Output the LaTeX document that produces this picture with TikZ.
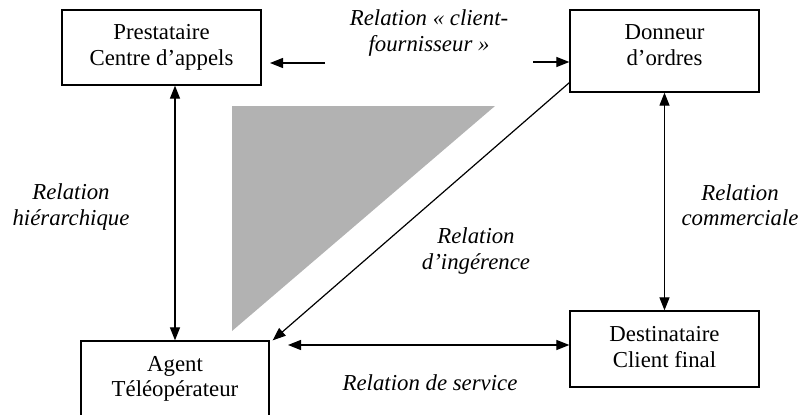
\documentclass[tikz,border=0pt]{standalone}
\usepackage{fontspec}
\setmainfont{Liberation Serif}
\usetikzlibrary{arrows.meta}
\definecolor{wedge}{RGB}{178,178,178}
\begin{document}
\begin{tikzpicture}[x=1pt,y=-1pt,
  every node/.style={font=\fontsize{22.8}{25.5}\selectfont, align=center, inner sep=0pt},
  box/.style={draw, line width=1.3pt},
  rel/.style={font=\fontsize{22.8}{25.5}\selectfont\itshape},
  link/.style={line width=1.2pt, -{Triangle[length=13pt,width=10pt]}},
  blink/.style={line width=1.2pt, {Triangle[length=13pt,width=10pt]}-{Triangle[length=13pt,width=10pt]}}]
  \useasboundingbox (0,0) rectangle (801,415);

  % shaded wedge
  \fill[wedge] (232,106) -- (495,106) -- (232,331) -- cycle;

  % actors
  \node[box, minimum width=199pt, minimum height=75pt] (pres) at (161.5,47.5)
    {Prestataire\\Centre d’appels};
  \node[box, minimum width=189pt, minimum height=82pt] (donneur) at (664.5,51)
    {Donneur\\d’ordres\rule[-12pt]{0pt}{0pt}};
  \node[box, minimum width=189pt, minimum height=76pt] (dest) at (664.5,349)
    {Destinataire\\Client final\rule[-4pt]{0pt}{0pt}};
  \node[box, minimum width=188pt, minimum height=76pt] (agent) at (175,379)
    {Agent\\Téléopérateur};

  % free ends of the top arrows
  \coordinate (cfL) at (325,63);
  \coordinate (cfLtip) at (270,63);
  \coordinate (cfR) at (533,62);
  \coordinate (srv) at (288,345);

  % relations
  \draw[link] (cfL) -- (cfLtip);
  \draw[link] (cfR) -- (donneur.west |- cfR);
  \draw[blink] (pres.south -| agent.north) -- (agent.north);
  \draw[blink] (donneur.south) -- (dest.north);
  \draw[link] ([yshift=10pt]donneur.south west) -- ([xshift=3pt]agent.north east);
  \draw[blink] (srv) -- (dest.west |- srv);

  % relation labels
  \node[rel] (lcf) at (429,33) {Relation « client-\\fournisseur »};
  \node[rel] (lhier) at (71,207) {Relation\\hiérarchique};
  \node[rel] (lcomm) at (740,205) {Relation\\commerciale};
  \node[rel] (ling) at (476,251) {Relation\\d’ingérence};
  \node[rel, anchor=base] (lserv) at (430,390) {Relation de service};
\end{tikzpicture}
\end{document}
